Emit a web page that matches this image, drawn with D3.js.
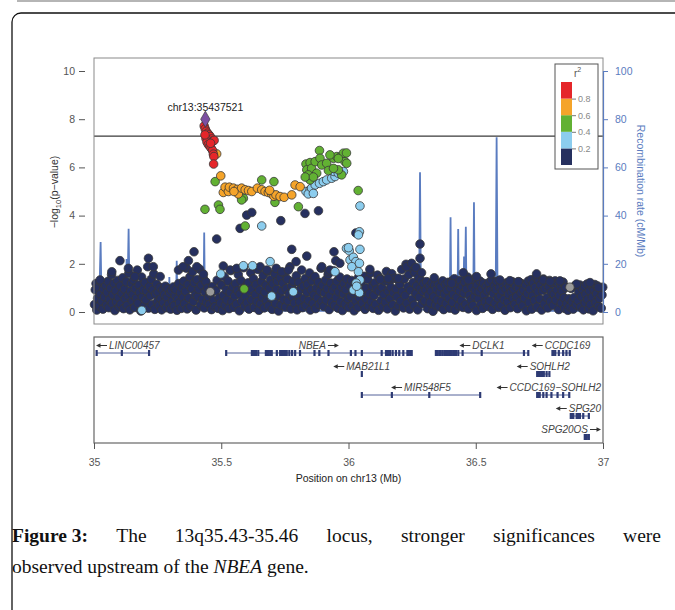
<!DOCTYPE html>
<html>
<head>
<meta charset="utf-8">
<script src="https://cdn.jsdelivr.net/npm/d3@7"></script>
<style>
  body { margin: 0; background: #fff; }
  svg { display: block; font-family: "Liberation Sans", Arial, sans-serif; }
</style>
</head>
<body>
<svg id="svg" width="675" height="610"></svg>
<script>
// ---- data ----
var leadSnp = [35.4375, 8.0];
var leadLabel = "chr13:35437521";
var gwsLine = 7.3;

var yTicks = [0, 2, 4, 6, 8, 10];
var recTicks = [0, 20, 40, 60, 80, 100];
var xTicks = [35, 35.5, 36, 36.5, 37];
var legendBreaks = [0.2, 0.4, 0.6, 0.8];
var legendColors = ["#26305f", "#8ccdee", "#62b133", "#f5a42a", "#e5262a"];

// r2 < 0.2, the dense band
var navyBand = [
  [35.002,0.31],[35.005,0.92],[35.008,1.18],[35.011,0.08],[35.014,0.57],[35.018,1.02],[35.021,0.24],[35.025,0.74],[35.028,1.24],[35.031,0.45],[35.035,0.12],[35.038,0.96],[35.042,0.63],[35.046,1.11],[35.049,0.29],
  [35.052,0.81],[35.055,1.27],[35.058,0.18],[35.062,0.52],[35.065,0.99],[35.069,1.55],[35.072,0.36],[35.075,0.71],[35.079,1.19],[35.082,0.06],[35.086,0.88],[35.089,0.42],[35.093,1.31],[35.096,0.61],[35.099,0.21],
  [35.103,1.08],[35.106,0.33],[35.110,0.77],[35.113,1.42],[35.116,0.14],[35.120,0.95],[35.123,0.55],[35.127,1.25],[35.130,0.27],[35.134,0.69],[35.137,1.62],[35.141,0.09],[35.144,0.86],[35.147,1.18],[35.150,0.47],
  [35.153,0.72],[35.156,1.33],[35.160,0.19],[35.163,0.98],[35.167,0.58],[35.170,1.74],[35.173,0.36],[35.177,1.12],[35.180,0.81],[35.184,0.04],[35.187,1.45],[35.190,0.62],[35.194,0.93],[35.197,0.25],
  [35.201,1.22],[35.204,0.51],[35.208,0.87],[35.211,1.88],[35.214,0.16],[35.218,1.05],[35.221,0.68],[35.225,1.36],[35.228,0.31],[35.232,0.92],[35.235,1.58],[35.239,0.11],[35.242,0.74],[35.246,1.15],[35.249,0.43],
  [35.252,0.83],[35.256,0.27],[35.259,1.02],[35.263,0.55],[35.266,0.09],[35.270,0.91],[35.273,0.38],[35.277,0.72],[35.280,1.07],[35.284,0.18],[35.287,0.61],[35.291,0.96],[35.294,0.33],[35.298,0.78],
  [35.301,0.12],[35.305,0.89],[35.308,0.47],[35.312,1.04],[35.315,0.26],[35.319,0.69],[35.322,0.93],[35.326,0.07],[35.329,0.54],[35.333,1.18],[35.336,0.39],[35.340,0.81],[35.343,0.15],[35.347,1.01],[35.350,0.60],
  [35.353,1.28],[35.356,0.34],[35.360,0.86],[35.363,1.82],[35.366,0.13],[35.370,1.14],[35.373,0.58],[35.377,1.46],[35.380,0.23],[35.384,0.97],[35.387,1.67],[35.391,0.44],[35.394,1.22],[35.398,0.71],
  [35.401,0.08],[35.405,1.35],[35.408,0.63],[35.412,0.95],[35.415,1.78],[35.419,0.29],[35.422,1.12],[35.426,0.52],[35.429,1.41],[35.433,0.17],[35.436,0.84],[35.440,1.25],[35.443,0.40],[35.447,0.98],[35.450,0.62],
  [35.454,0.31],[35.458,0.75],[35.462,0.10],[35.466,1.06],[35.471,0.48],[35.475,0.22],[35.479,0.88],[35.484,1.32],[35.488,0.15],[35.492,0.58],[35.497,0.37],
  [35.501,1.12],[35.505,0.06],[35.509,0.69],[35.512,1.46],[35.516,0.28],[35.520,0.92],[35.523,0.50],[35.527,1.28],[35.531,0.14],[35.535,0.81],[35.538,1.72],[35.542,0.42],[35.546,1.05],[35.549,0.20],
  [35.553,0.67],[35.557,1.18],[35.560,0.33],[35.564,0.89],[35.567,1.55],[35.571,0.05],[35.574,0.74],[35.578,1.30],[35.581,0.45],[35.585,0.97],[35.588,1.84],[35.592,0.24],[35.595,0.63],[35.599,1.09],
  [35.602,0.38],[35.606,1.21],[35.609,0.12],[35.613,0.85],[35.616,1.63],[35.620,0.51],[35.623,0.96],[35.627,1.38],[35.630,0.19],[35.634,0.72],[35.637,1.14],[35.641,0.43],[35.644,1.77],[35.648,0.07],
  [35.651,0.91],[35.655,0.34],[35.658,1.26],[35.662,0.62],[35.665,1.52],[35.669,0.17],[35.672,0.83],[35.676,1.11],[35.679,0.46],[35.683,1.69],[35.686,0.26],[35.690,0.99],[35.693,1.34],[35.697,0.58],
  [35.700,0.11],[35.704,1.17],[35.707,0.73],[35.711,1.58],[35.714,0.35],[35.718,0.94],[35.721,1.28],[35.725,0.04],[35.728,0.66],[35.732,1.43],[35.735,0.29],[35.739,0.88],[35.742,1.19],[35.746,0.52],[35.749,1.61],
  [35.753,0.21],[35.756,0.97],[35.760,1.36],[35.763,0.47],[35.767,0.76],[35.770,1.88],[35.774,0.13],[35.777,1.08],[35.781,0.61],[35.784,1.27],[35.788,0.37],[35.791,0.86],[35.795,1.50],[35.798,0.09],
  [35.802,0.71],[35.805,1.23],[35.809,0.41],[35.812,0.95],[35.816,1.74],[35.819,0.18],[35.823,1.06],[35.826,0.56],[35.830,1.39],[35.833,0.27],[35.837,0.82],[35.840,1.15],[35.844,0.48],[35.847,1.62],[35.850,0.08],
  [35.854,0.92],[35.857,1.30],[35.861,0.35],[35.864,0.70],[35.868,1.47],[35.871,0.14],[35.875,1.01],[35.878,0.59],[35.882,1.24],[35.885,0.31],[35.889,0.87],[35.892,1.82],[35.896,0.44],[35.899,1.10],
  [35.903,0.23],[35.906,0.79],[35.910,1.33],[35.913,0.50],[35.917,0.97],[35.920,1.56],[35.924,0.10],[35.927,0.68],[35.931,1.20],[35.934,0.38],[35.938,0.91],[35.941,1.71],[35.945,0.27],[35.948,1.04],
  [35.952,0.60],[35.955,1.28],[35.959,0.16],[35.962,0.84],[35.966,1.45],[35.969,0.42],[35.973,1.03],[35.976,0.06],[35.980,0.75],[35.983,1.18],[35.987,0.33],[35.990,0.93],[35.994,1.37],[35.997,0.55],
  [36.001,0.19],[36.005,1.09],[36.008,0.64],[36.012,1.31],[36.015,0.28],[36.019,0.80],[36.022,0.05],[36.026,1.16],[36.029,0.47],[36.033,0.87],[36.037,0.20],[36.040,1.45],[36.044,0.58],[36.048,0.96],
  [36.051,1.26],[36.055,0.37],[36.058,0.82],[36.062,1.48],[36.065,0.11],[36.069,0.99],[36.072,0.53],[36.076,1.35],[36.079,0.25],[36.083,0.76],[36.086,1.62],[36.090,0.43],[36.093,1.08],[36.097,0.15],
  [36.100,0.69],[36.104,1.21],[36.107,0.32],[36.111,0.94],[36.114,1.53],[36.118,0.07],[36.121,0.86],[36.125,1.39],[36.128,0.49],[36.132,1.02],[36.135,0.21],[36.139,0.73],[36.142,1.29],[36.146,0.40],[36.149,1.68],
  [36.153,0.13],[36.156,0.88],[36.160,1.25],[36.163,0.55],[36.167,1.02],[36.170,1.59],[36.174,0.30],[36.177,0.79],[36.181,1.40],[36.184,0.04],[36.188,0.96],[36.191,0.62],[36.195,1.33],[36.198,0.26],
  [36.202,1.14],[36.205,0.45],[36.209,1.76],[36.212,0.83],[36.216,0.17],[36.219,1.37],[36.223,0.68],[36.226,1.98],[36.230,0.36],[36.233,1.05],[36.237,1.55],[36.240,0.12],[36.244,0.90],[36.247,1.85],
  [36.251,0.53],[36.254,1.22],[36.258,0.28],[36.261,1.64],[36.265,0.77],[36.268,1.08],[36.272,0.09],[36.275,1.43],[36.279,0.61],[36.282,0.97],[36.286,1.30],[36.289,0.34],[36.293,0.85],[36.296,1.17],
  [36.300,0.46],[36.304,0.92],[36.307,1.26],[36.311,0.14],[36.314,0.70],[36.318,1.07],[36.321,0.38],[36.325,0.87],[36.328,1.20],[36.332,0.03],[36.335,0.63],[36.339,1.11],[36.342,0.29],[36.346,0.95],[36.349,0.50],
  [36.353,1.18],[36.356,0.22],[36.360,0.81],[36.363,1.05],[36.367,0.44],[36.370,1.29],[36.374,0.10],[36.377,0.74],[36.381,1.14],[36.384,0.35],[36.388,0.90],[36.391,1.23],[36.395,0.57],[36.398,0.16],
  [36.402,0.99],[36.405,1.27],[36.409,0.40],[36.412,0.73],[36.416,1.38],[36.419,0.08],[36.423,1.02],[36.426,0.60],[36.430,1.21],[36.433,0.25],[36.437,0.87],[36.440,1.31],[36.444,0.47],[36.447,1.08],[36.450,0.19],
  [36.454,0.78],[36.457,1.24],[36.461,0.32],[36.464,0.96],[36.468,1.45],[36.471,0.13],[36.475,0.69],[36.478,1.17],[36.482,0.50],[36.485,1.03],[36.489,0.27],[36.492,1.35],[36.496,0.64],[36.499,0.90],
  [36.503,0.06],[36.506,1.12],[36.510,0.55],[36.513,0.84],[36.517,1.28],[36.520,0.31],[36.524,0.97],[36.527,0.15],[36.531,1.19],[36.534,0.70],[36.538,0.42],[36.541,1.06],[36.545,0.87],[36.548,0.23],
  [36.552,1.22],[36.555,0.48],[36.559,0.91],[36.562,1.33],[36.566,0.11],[36.569,0.76],[36.573,1.09],[36.576,0.36],[36.580,0.94],[36.583,1.27],[36.587,0.58],[36.590,0.19],[36.594,1.03],[36.597,0.67],
  [36.601,0.29],[36.605,0.88],[36.608,1.15],[36.612,0.52],[36.615,0.07],[36.619,0.96],[36.622,1.21],[36.626,0.41],[36.629,0.73],[36.633,1.05],[36.636,0.18],[36.640,0.84],[36.643,1.26],[36.647,0.56],[36.650,0.95],
  [36.654,0.32],[36.657,1.10],[36.661,0.64],[36.664,0.14],[36.668,0.99],[36.671,1.24],[36.675,0.45],[36.678,0.80],[36.682,1.17],[36.685,0.26],[36.689,0.92],[36.692,0.58],[36.696,1.13],[36.699,0.05],
  [36.703,0.77],[36.706,1.28],[36.710,0.39],[36.713,0.95],[36.717,1.34],[36.720,0.12],[36.724,0.66],[36.727,1.19],[36.731,0.48],[36.734,1.02],[36.738,1.42],[36.741,0.21],[36.745,0.85],[36.748,1.30],
  [36.752,0.54],[36.755,1.12],[36.759,0.08],[36.762,0.89],[36.766,1.37],[36.769,0.33],[36.773,0.97],[36.776,1.26],[36.780,0.60],[36.783,0.17],[36.787,1.05],[36.790,1.31],[36.794,0.44],[36.797,0.82],
  [36.801,1.19],[36.805,0.27],[36.808,0.74],[36.812,1.29],[36.815,0.50],[36.819,0.93],[36.822,1.21],[36.826,0.10],[36.829,0.68],[36.833,1.08],[36.836,0.37],[36.840,0.88],[36.843,1.24],[36.847,0.59],[36.850,0.15],
  [36.854,1.02],[36.858,0.35],[36.862,0.07],[36.866,0.55],[36.870,0.22],[36.875,0.98],[36.879,0.42],[36.883,0.12],[36.887,0.60],[36.891,1.10],[36.895,0.30],
  [36.902,0.47],[36.905,0.84],[36.909,1.12],[36.912,0.20],[36.916,0.65],[36.919,0.96],[36.923,0.09],[36.926,1.07],[36.930,0.38],[36.933,0.74],[36.937,1.16],[36.940,0.52],[36.944,0.13],[36.947,0.89],
  [36.951,0.31],[36.954,1.10],[36.958,0.62],[36.961,0.05],[36.965,0.93],[36.968,1.14],[36.972,0.40],[36.975,0.76],[36.979,1.08],[36.982,0.24],[36.986,0.57],[36.989,0.98],[36.993,0.16],[36.996,0.71],[36.999,1.03]
];

// r2 < 0.2, points standing above the band
var navyHigh = [
  [35.024,1.33],[35.070,1.67],[35.102,2.13],[35.135,1.81],[35.160,1.47],[35.214,2.23],[35.233,1.88],[35.260,1.47],
  [35.332,1.74],[35.350,1.88],[35.371,2.13],[35.393,2.50],[35.404,1.88],[35.430,1.57],[35.482,3.03],[35.508,1.91],
  [35.535,1.74],[35.561,1.81],[35.574,3.47],[35.600,4.02],[35.620,4.13],[35.653,1.88],[35.679,1.74],[35.716,1.81],
  [35.734,3.79],[35.738,1.67],[35.764,1.74],[35.777,2.60],[35.794,2.09],[35.829,4.09],[35.836,2.32],[35.882,4.20],
  [35.895,1.88],[35.921,1.67],[35.927,1.74],[35.943,2.50],[35.950,2.13],[35.966,2.02],[36.029,3.28],[36.084,1.77],
  [36.124,1.35],[36.156,1.40],[36.196,1.40],[36.228,1.88],[36.248,2.02],[36.265,1.85],[36.281,2.82],[36.281,2.23],
  [36.287,1.63],[36.337,1.42],[36.405,1.19],[36.451,1.63],[36.471,1.33],[36.503,1.47],[36.560,1.58],[36.595,1.33],
  [36.634,1.30],[36.667,1.26],[36.739,1.58],[36.765,1.33],[36.792,1.26],[36.831,1.29],[36.896,1.16],[36.949,1.22],[36.982,1.02]
];

var graySnps = [[35.457,0.84],[36.870,1.03]];

var blueSnps = [
  [35.188,0.07],[35.498,1.58],[35.587,1.92],[35.623,1.92],[35.692,2.09],[35.659,3.57],[35.698,0.66],[35.783,0.84],
  [35.947,1.67],[35.992,2.64],[36.003,2.54],
  [35.833,5.00],[35.849,5.07],[35.842,4.90],[35.855,5.14],[35.869,5.27],[35.886,5.34],[35.901,5.41],[35.914,5.48],
  [35.934,5.55],[35.947,5.62],[35.943,5.83],[35.960,5.76],[35.980,5.83],[35.862,4.92],
  [36.045,4.40],[36.043,3.33],[36.039,3.20],[36.045,2.60],[36.006,2.16],[36.019,2.27],[36.029,2.09],[36.013,1.88],
  [36.043,2.02],[36.039,1.67],[36.045,1.33],[36.030,1.20],[36.035,1.05],[36.019,0.91],[36.043,0.80],[36.000,2.67],[36.032,1.07]
];

var greenSnps = [
  [35.436,4.26],[35.476,5.41],[35.489,4.44],[35.495,4.26],[35.574,4.86],[35.587,4.72],[35.580,4.65],[35.659,5.48],
  [35.707,5.41],[35.711,4.55],[35.803,4.37],[35.594,3.57],[35.590,0.96],
  [35.833,6.14],[35.849,6.20],[35.836,5.90],[35.855,5.96],[35.869,6.24],[35.886,6.70],[35.888,6.38],[35.895,6.10],
  [35.875,5.76],[35.849,5.48],[35.842,5.69],[35.914,6.17],[35.921,5.87],[35.941,6.38],[35.954,6.45],[35.967,6.42],
  [35.980,6.59],[35.986,6.24],[35.993,6.17],[35.973,5.69],[35.960,5.90],[35.941,5.96],[35.927,6.52],[35.992,6.60],
  [35.960,6.37],[36.038,5.04],[35.830,5.60],[35.862,5.60]
];

var orangeSnps = [
  [35.482,6.56],[35.498,5.65],[35.508,4.96],[35.515,5.18],[35.528,5.00],[35.532,5.18],[35.548,5.14],[35.563,5.09],
  [35.567,4.90],[35.580,5.14],[35.594,5.07],[35.607,5.04],[35.620,5.00],[35.642,5.14],[35.659,5.07],[35.672,5.00],
  [35.685,4.96],[35.698,4.90],[35.707,4.80],[35.715,4.86],[35.731,4.79],[35.747,4.76],[35.777,4.86],[35.790,5.27],
  [35.810,5.20],[35.550,5.00],[35.690,5.05]
];

var redSnps = [
  [35.433,7.72],[35.437,7.60],[35.441,7.50],[35.446,7.42],[35.452,7.35],[35.457,7.28],[35.463,7.18],[35.468,7.10],
  [35.472,7.12],[35.440,7.20],[35.444,7.05],[35.449,6.95],[35.455,6.88],[35.460,6.80],[35.466,6.70],[35.469,6.55],
  [35.471,6.45],[35.470,6.14],[35.436,7.35],[35.458,7.00]
];

// recombination rate (cM/Mb)
var recPos = [35.000,35.020,35.026,35.030,35.060,35.100,35.126,35.128,35.131,35.136,35.140,35.200,35.250,35.294,35.296,35.299,
  35.322,35.325,35.328,35.400,35.430,35.433,35.436,35.500,35.700,35.900,36.000,36.277,36.281,36.285,36.398,36.401,36.404,
  36.428,36.431,36.434,36.451,36.454,36.457,36.461,36.464,36.490,36.493,36.496,36.578,36.582,36.586,36.700,36.900,37.000];
var recRate = [1,1.5,29,2,1,3,2,22,4,34.5,3,2,1,1,14.5,1,
  2,21.3,2,1,1,33,1,0.5,0.5,0.5,1,1,58,1,1,39.3,1,
  1,34.4,1,2,23,5,35.4,1,1,45.5,1,1,72.5,1,0.5,0.5,0.5];

// genes
var geneName = ["LINC00457","NBEA","DCLK1","CCDC169","MAB21L1","SOHLH2","MIR548F5","CCDC169\u2212SOHLH2","SPG20","SPG20OS"];
var geneStart = [35.010,35.519,36.343,36.801,36.051,36.739,36.052,36.741,36.873,36.928];
var geneEnd   = [35.216,36.248,36.706,36.869,36.053,36.791,36.517,36.867,36.944,36.944];
var geneStrand = ["-","+","-","-","-","-","-","-","-","+"];
var geneRow = [1,1,1,1,2,2,3,3,4,5];
var geneExons = [
  [35.010,35.109,35.216],
  [35.519,35.620,35.624,35.628,35.632,35.636,35.645,35.675,35.680,35.686,35.692,35.698,35.718,35.731,35.736,35.741,
   35.746,35.751,35.757,35.767,35.778,35.790,35.809,35.866,35.885,35.921,36.009,36.027,36.052,36.130,36.147,36.152,
   36.158,36.163,36.173,36.186,36.199,36.215,36.231,36.236,36.242,36.248],
  [36.343,36.349,36.356,36.362,36.369,36.376,36.383,36.389,36.395,36.400,36.405,36.411,36.416,36.422,36.431,36.448,36.523,36.689,36.706],
  [36.801,36.806,36.812,36.826,36.843,36.856,36.869],
  [36.052],
  [36.741,36.746,36.751,36.756,36.761,36.767,36.778,36.789],
  [36.052,36.170,36.317,36.517],
  [36.741,36.746,36.751,36.765,36.778,36.797,36.821,36.843,36.867],
  [36.873,36.878,36.883,36.896,36.900,36.904,36.909,36.922,36.944],
  [36.928,36.932,36.936,36.944]
];

var captionWords = ["Figure 3:", "The", "13q35.43-35.46", "locus,", "stronger", "significances", "were"];
var captionLine2a = "observed upstream of the";
var captionItalic = "NBEA";
var captionLine2b = "gene.";

// ---- drawing ----
var svg = d3.select("#svg");

// page frame
svg.append("rect").attr("x", 17).attr("y", 0).attr("width", 658).attr("height", 2).attr("fill", "#b5b5b5");
svg.append("rect").attr("x", 12).attr("y", 13).attr("width", 700).attr("height", 640).attr("rx", 9)
  .attr("fill", "none").attr("stroke", "#111").attr("stroke-width", 1.3);

var box = { left: 94, right: 603, top: 58, bottom: 324 };
var gbox = { top: 337, bottom: 443 };

var x = d3.scaleLinear().domain([35, 37]).range([box.left, box.right]);
var y = d3.scaleLinear().domain([0, 10]).range([312, 71]);
var yRec = d3.scaleLinear().domain([0, 100]).range([312, 71]);

// recombination rate
var recData = recPos.map(function (p, i) { return [p, recRate[i]]; });
svg.append("path").datum(recData)
  .attr("fill", "none").attr("stroke", "#5a7cc0").attr("stroke-width", 1.8)
  .attr("d", d3.line().x(function (d) { return x(d[0]); }).y(function (d) { return yRec(d[1]); }));

// genome-wide line
svg.append("line").attr("x1", box.left).attr("x2", box.right)
  .attr("y1", y(gwsLine)).attr("y2", y(gwsLine))
  .attr("stroke", "#3a3a3a").attr("stroke-width", 1.2);

function drawSnps(data, fill) {
  svg.append("g").selectAll("circle").data(data).enter().append("circle")
    .attr("cx", function (d) { return x(d[0]); })
    .attr("cy", function (d) { return y(d[1]); })
    .attr("r", 4.3)
    .attr("fill", fill)
    .attr("stroke", "#383838")
    .attr("stroke-width", 0.8);
}
drawSnps(navyBand, legendColors[0]);
drawSnps(navyHigh, legendColors[0]);
drawSnps(graySnps, "#9a9a9a");
drawSnps(blueSnps, legendColors[1]);
drawSnps(greenSnps, legendColors[2]);
drawSnps(orangeSnps, legendColors[3]);
drawSnps(redSnps, legendColors[4]);

svg.append("path")
  .attr("d", d3.symbol().type(d3.symbolDiamond).size(75)())
  .attr("transform", "translate(" + x(leadSnp[0]) + "," + y(leadSnp[1]) + ")")
  .attr("fill", "#7b4fa2").attr("stroke", "#383838").attr("stroke-width", 0.7);

svg.append("text").attr("x", x(leadSnp[0])).attr("y", y(leadSnp[1]) - 8)
  .attr("text-anchor", "middle").attr("font-size", 10.5).attr("fill", "#222")
  .text(leadLabel);

// plot box
svg.append("rect").attr("x", box.left).attr("y", box.top)
  .attr("width", box.right - box.left).attr("height", box.bottom - box.top)
  .attr("fill", "none").attr("stroke", "#8a8a8a").attr("stroke-width", 1);

// left axis
var yAxis = svg.append("g").attr("transform", "translate(85,0)")
  .call(d3.axisLeft(y).tickValues(yTicks).tickSize(6).tickPadding(4));
yAxis.select(".domain").remove();
yAxis.selectAll("line").attr("stroke", "#555");
yAxis.selectAll("text").attr("font-size", 10.5).attr("fill", "#555").attr("font-family", "Liberation Sans, Arial, sans-serif");

var ylab = svg.append("text").attr("transform", "translate(58,192) rotate(-90)")
  .attr("text-anchor", "middle").attr("font-size", 10.5).attr("fill", "#333");
ylab.append("tspan").text("\u2212log");
ylab.append("tspan").attr("font-size", 7.5).attr("dy", 3).text("10");
ylab.append("tspan").attr("dy", -3).text("(p\u2212value)");

// right axis
var rAxis = svg.append("g").attr("transform", "translate(" + box.right + ",0)")
  .call(d3.axisRight(yRec).tickValues(recTicks).tickSize(5).tickPadding(7));
rAxis.select(".domain").attr("stroke", "#5a7cc0").attr("stroke-width", 1.2);
rAxis.selectAll("line").attr("stroke", "#5a7cc0");
rAxis.selectAll("text").attr("font-size", 10.5).attr("fill", "#5a7cc0").attr("font-family", "Liberation Sans, Arial, sans-serif");

svg.append("text").attr("transform", "translate(637,191) rotate(90)")
  .attr("text-anchor", "middle").attr("font-size", 10.5).attr("fill", "#5a7cc0")
  .text("Recombination rate (cM/Mb)");

// legend
var lg = svg.append("g");
lg.append("rect").attr("x", 555).attr("y", 64).attr("width", 43).attr("height", 105)
  .attr("fill", "#fff").attr("stroke", "#555").attr("stroke-width", 1);
var ly = d3.scaleLinear().domain([0, 1]).range([165, 82]);
var bins = [0, 0.2, 0.4, 0.6, 0.8, 1];
lg.selectAll("rect.bin").data(legendColors).enter().append("rect").attr("class", "bin")
  .attr("x", 561).attr("width", 11)
  .attr("y", function (d, i) { return ly(bins[i + 1]); })
  .attr("height", function (d, i) { return ly(bins[i]) - ly(bins[i + 1]); })
  .attr("fill", function (d) { return d; });
var lAxis = lg.append("g").attr("transform", "translate(572,0)")
  .call(d3.axisRight(ly).tickValues(legendBreaks).tickSize(4).tickPadding(2).tickFormat(d3.format(".1f")));
lAxis.select(".domain").remove();
lAxis.selectAll("line").attr("stroke", "#777");
lAxis.selectAll("text").attr("font-size", 9).attr("fill", "#888").attr("font-family", "Liberation Sans, Arial, sans-serif");
var r2 = lg.append("text").attr("x", 574).attr("y", 77).attr("font-size", 10).attr("fill", "#555");
r2.append("tspan").text("r");
r2.append("tspan").attr("font-size", 7).attr("dy", -5).text("2");

// gene panel
var rowY = d3.scaleLinear().domain([1, 5]).range([353, 437]);
var gcol = "#2e3b74";
svg.append("rect").attr("x", box.left).attr("y", gbox.top)
  .attr("width", box.right - box.left).attr("height", gbox.bottom - gbox.top)
  .attr("fill", "none").attr("stroke", "#666").attr("stroke-width", 1.2);

var gg = svg.append("g");
var arrowLen = 11;
geneName.forEach(function (name, i) {
  var gy = rowY(geneRow[i]);
  gg.append("line").attr("x1", x(geneStart[i])).attr("x2", x(geneEnd[i]))
    .attr("y1", gy).attr("y2", gy).attr("stroke", "#55639a").attr("stroke-width", 1);
  gg.selectAll(null).data(geneExons[i]).enter().append("rect")
    .attr("x", function (d) { return x(d) - 1; })
    .attr("y", gy - 3).attr("width", 2.2).attr("height", 6).attr("fill", gcol);

  var ty = gy - 4;
  var t = gg.append("text").attr("y", ty).attr("font-size", 10).attr("font-style", "italic")
    .attr("fill", "#444").text(name);
  var w = t.node().getComputedTextLength();
  var total = w + arrowLen + 2;
  var cx = (x(geneStart[i]) + x(geneEnd[i])) / 2;
  cx = Math.min(cx, box.right - 2 - total / 2);
  cx = Math.max(cx, box.left + 2 + total / 2);
  var left = cx - total / 2;
  var ay = ty - 3.5;
  var tip, tail;
  if (geneStrand[i] === "+") {
    t.attr("x", left);
    tail = left + w + 2; tip = tail + arrowLen;
  } else {
    t.attr("x", left + arrowLen + 2);
    tip = left; tail = left + arrowLen;
  }
  var dir = tip > tail ? 1 : -1;
  gg.append("line").attr("x1", tail).attr("x2", tip - dir * 3).attr("y1", ay).attr("y2", ay)
    .attr("stroke", "#333").attr("stroke-width", 1);
  gg.append("path")
    .attr("d", "M" + tip + "," + ay + "L" + (tip - dir * 4.5) + "," + (ay - 2.2) + "L" + (tip - dir * 4.5) + "," + (ay + 2.2) + "Z")
    .attr("fill", "#333");
});

var xAxis = svg.append("g").attr("transform", "translate(0," + gbox.bottom + ")")
  .call(d3.axisBottom(x).tickValues(xTicks).tickSize(6).tickPadding(10).tickFormat(d3.format("")));
xAxis.select(".domain").remove();
xAxis.selectAll("line").attr("stroke", "#555");
xAxis.selectAll("text").attr("font-size", 10.5).attr("fill", "#555").attr("font-family", "Liberation Sans, Arial, sans-serif");

svg.append("text").attr("x", (box.left + box.right) / 2).attr("y", 482)
  .attr("text-anchor", "middle").attr("font-size", 10.5).attr("fill", "#222")
  .text("Position on chr13 (Mb)");

// caption
var cap = svg.append("g").attr("font-family", "\"Liberation Serif\", \"Times New Roman\", serif")
  .attr("font-size", 19.5).attr("fill", "#111");
var nodes = captionWords.map(function (w, i) {
  return cap.append("text").attr("y", 542).attr("font-weight", i === 0 ? "bold" : null).text(w);
});
var widths = nodes.map(function (n) { return n.node().getComputedTextLength(); });
var gap = (661 - 12 - d3.sum(widths)) / (nodes.length - 1);
var cx0 = 12;
nodes.forEach(function (n, i) { n.attr("x", cx0); cx0 += widths[i] + gap; });

var line2 = cap.append("text").attr("x", 12).attr("y", 573);
line2.append("tspan").text(captionLine2a + " ");
line2.append("tspan").attr("font-style", "italic").text(captionItalic);
line2.append("tspan").text(" " + captionLine2b);
</script>
</body>
</html>
